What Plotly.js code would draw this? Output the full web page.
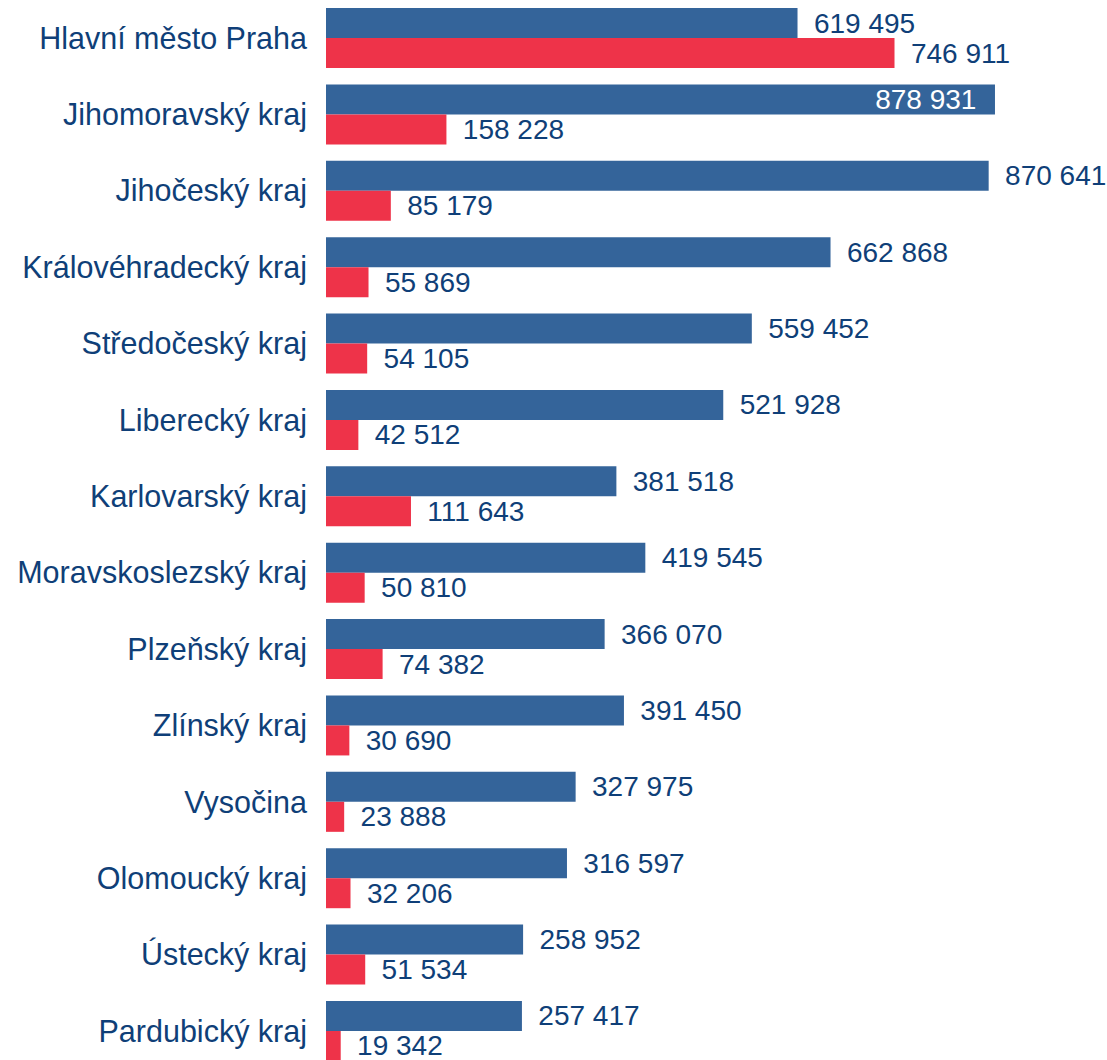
<!DOCTYPE html>
<html>
<head>
<meta charset="utf-8">
<script src="https://cdn.plot.ly/plotly-3.0.1.min.js"></script>
<style>html,body{margin:0;padding:0;background:#fff;}#chart{width:1107px;height:1060px;}</style>
</head>
<body>
<div id="chart"></div>
<script>
const categories = ["Hlavní město Praha","Jihomoravský kraj","Jihočeský kraj","Královéhradecký kraj","Středočeský kraj","Liberecký kraj","Karlovarský kraj","Moravskoslezský kraj","Plzeňský kraj","Zlínský kraj","Vysočina","Olomoucký kraj","Ústecký kraj","Pardubický kraj"];
const blueValues = [619495, 878931, 870641, 662868, 559452, 521928, 381518, 419545, 366070, 391450, 327975, 316597, 258952, 257417];
const redValues = [746911, 158228, 85179, 55869, 54105, 42512, 111643, 50810, 74382, 30690, 23888, 32206, 51534, 19342];

const BLUE = '#34649a';
const RED = '#ee3349';
const TEXT = '#0f3f78';
const FONT = '"Liberation Sans", Arial, sans-serif';

const maxBlue = Math.max(...blueValues);
const bluePos = blueValues.map(v => v === maxBlue ? 'inside' : 'outside');
const blueTpl = blueValues.map(v => v === maxBlue ? '%{x:,d}\u00a0\u00a0' : '\u00a0\u2009%{x:,d}');

const traces = [
  {
    type: 'bar', orientation: 'h', y: categories, x: blueValues,
    marker: {color: BLUE}, textposition: bluePos, texttemplate: blueTpl,
    insidetextfont: {color: '#ffffff', size: 28, family: FONT},
    outsidetextfont: {color: TEXT, size: 28, family: FONT},
    constraintext: 'none', cliponaxis: false, hoverinfo: 'skip'
  },
  {
    type: 'bar', orientation: 'h', y: categories, x: redValues,
    marker: {color: RED}, textposition: 'outside', texttemplate: '\u00a0\u2009%{x:,d}',
    outsidetextfont: {color: TEXT, size: 28, family: FONT},
    constraintext: 'none', cliponaxis: false, hoverinfo: 'skip'
  }
];

const layout = {
  width: 1107, height: 1060,
  margin: {l: 326, r: 0, t: 0, b: 0, pad: 0},
  paper_bgcolor: '#ffffff', plot_bgcolor: '#ffffff',
  barmode: 'group', bargap: 0.2145, bargroupgap: 0,
  separators: ', ',
  showlegend: false,
  font: {family: FONT, color: TEXT},
  xaxis: {visible: false, range: [0, 1026100], fixedrange: true},
  yaxis: {
    type: 'category', range: [13.38, -0.4975], autorange: false,
    showgrid: false, showline: false, zeroline: false, ticks: '',
    ticklabelstandoff: 18,
    tickfont: {size: 30.5, color: TEXT, family: FONT},
    automargin: false
  }
};

Plotly.newPlot('chart', traces, layout, {staticPlot: true, displayModeBar: false});
</script>
</body>
</html>
